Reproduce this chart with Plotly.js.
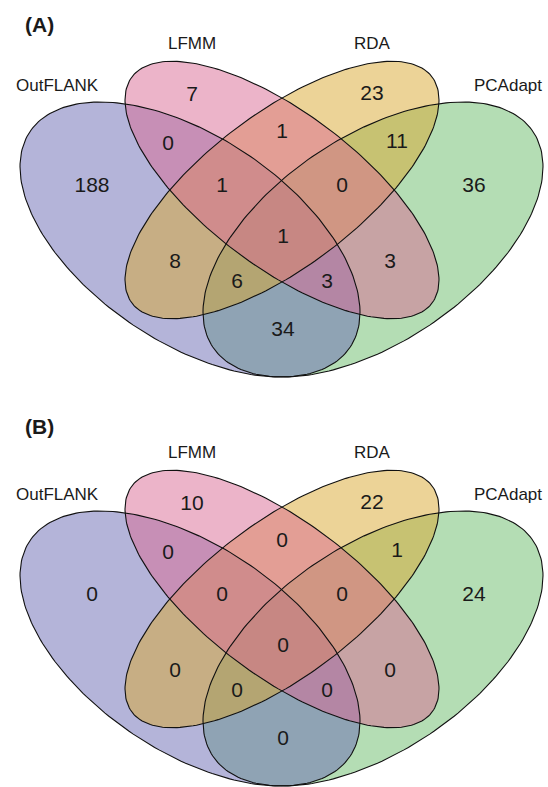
<!DOCTYPE html>
<html>
<head>
<meta charset="utf-8">
<script src="https://cdn.plot.ly/plotly-3.0.1.min.js"></script>
<style>html,body{margin:0;padding:0;background:#fff;}#chart{width:548px;height:787px;}</style>
</head>
<body>
<div id="chart"></div>
<script>
// ---- data ----
const setNames = ['OutFLANK', 'LFMM', 'RDA', 'PCAdapt'];
// region membership (OutFLANK, LFMM, RDA, PCAdapt)
const regionKeys = ['1000','0100','0010','0001','1100','0110','0011','1110','0111','1111','1010','1011','1101','0101','1001'];
const countsA = [188, 7, 23, 36, 0, 1, 11, 1, 0, 1, 8, 6, 3, 3, 34];
const countsB = [0, 10, 22, 24, 0, 0, 1, 0, 0, 0, 0, 0, 0, 0, 0];
const panelTitles = ['(A)', '(B)'];

// ---- layout geometry (pixel frame of panel A) ----
const labelPos = {
  '1000': [92, 187], '0100': [192, 96], '0010': [372, 95], '0001': [474, 187],
  '1100': [168, 145], '0110': [282, 133], '0011': [397, 143],
  '1110': [222, 187], '0111': [342, 187], '1111': [283, 238],
  '1010': [175, 263], '1011': [237, 283], '1101': [327, 283], '0101': [390, 263],
  '1001': [283, 331]
};
const ellipses = {
  OutFLANK: {cx: 190,   cy: 239.5, a: 170,   c: 72.8, d: 116.6, sx: 1,  color: 'rgba(105,105,179,0.5)'},
  LFMM:     {cx: 282,   cy: 190,   a: 157,   c: 90,   d: 92,    sx: 1,  color: 'rgba(218,105,148,0.5)'},
  RDA:      {cx: 282,   cy: 190,   a: 157,   c: 90,   d: 92,    sx: -1, color: 'rgba(218,168,48,0.5)'},
  PCAdapt:  {cx: 373,   cy: 239.5, a: 170,   c: 72.8, d: 116.6, sx: -1, color: 'rgba(105,188,105,0.5)'}
};
const setLabelPos = {OutFLANK: [57, 85], LFMM: [192, 43], RDA: [372, 43], PCAdapt: [508, 85]};
const drawOrder = ['PCAdapt', 'OutFLANK', 'RDA', 'LFMM'];
const panelShift = [0, 409];
const titlePos = [[39, 24], [39, 426]];

function ellipsePts(e, dy) {
  const xs = [], ys = [];
  const N = 240;
  for (let i = 0; i <= N; i++) {
    const t = 2 * Math.PI * i / N;
    xs.push(e.cx + e.sx * e.a * Math.cos(t));
    ys.push(e.cy + dy + e.c * Math.cos(t) + e.d * Math.sin(t));
  }
  return {xs, ys};
}

const traces = [];
const annotations = [];
[countsA, countsB].forEach((counts, p) => {
  const dy = panelShift[p];
  // fills
  drawOrder.forEach(name => {
    const pts = ellipsePts(ellipses[name], dy);
    traces.push({type: 'scatter', mode: 'lines', x: pts.xs, y: pts.ys, fill: 'toself',
      fillcolor: ellipses[name].color, line: {width: 0, color: 'rgba(0,0,0,0)'},
      hoverinfo: 'skip', showlegend: false});
  });
  // outlines
  drawOrder.forEach(name => {
    const pts = ellipsePts(ellipses[name], dy);
    traces.push({type: 'scatter', mode: 'lines', x: pts.xs, y: pts.ys,
      line: {width: 1.1, color: '#111'}, hoverinfo: 'skip', showlegend: false});
  });
  // counts
  traces.push({type: 'scatter', mode: 'text',
    x: regionKeys.map(k => labelPos[k][0]),
    y: regionKeys.map(k => labelPos[k][1] + dy),
    text: counts.map(String),
    textposition: 'middle center',
    textfont: {family: 'Liberation Sans, Arial, sans-serif', size: 21, color: '#1a1a1a'},
    hoverinfo: 'skip', showlegend: false});
  // set labels
  setNames.forEach(name => {
    annotations.push({x: setLabelPos[name][0], y: setLabelPos[name][1] + dy, xref: 'x', yref: 'y',
      text: name, showarrow: false, xanchor: 'center', yanchor: 'middle',
      font: {family: 'Liberation Sans, Arial, sans-serif', size: 17, color: '#1a1a1a'}});
  });
  annotations.push({x: titlePos[p][0], y: titlePos[p][1], xref: 'x', yref: 'y',
    text: '<b>' + panelTitles[p] + '</b>', showarrow: false, xanchor: 'center', yanchor: 'middle',
    font: {family: 'Liberation Sans, Arial, sans-serif', size: 21, color: '#1a1a1a'}});
});

const layout = {
  width: 548, height: 787,
  margin: {l: 0, r: 0, t: 0, b: 0, pad: 0},
  paper_bgcolor: '#ffffff', plot_bgcolor: '#ffffff',
  xaxis: {range: [0, 548], visible: false, fixedrange: true},
  yaxis: {range: [787, 0], visible: false, fixedrange: true},
  showlegend: false, hovermode: false,
  annotations: annotations
};
Plotly.newPlot('chart', traces, layout, {staticPlot: true, displayModeBar: false});
</script>
</body>
</html>
